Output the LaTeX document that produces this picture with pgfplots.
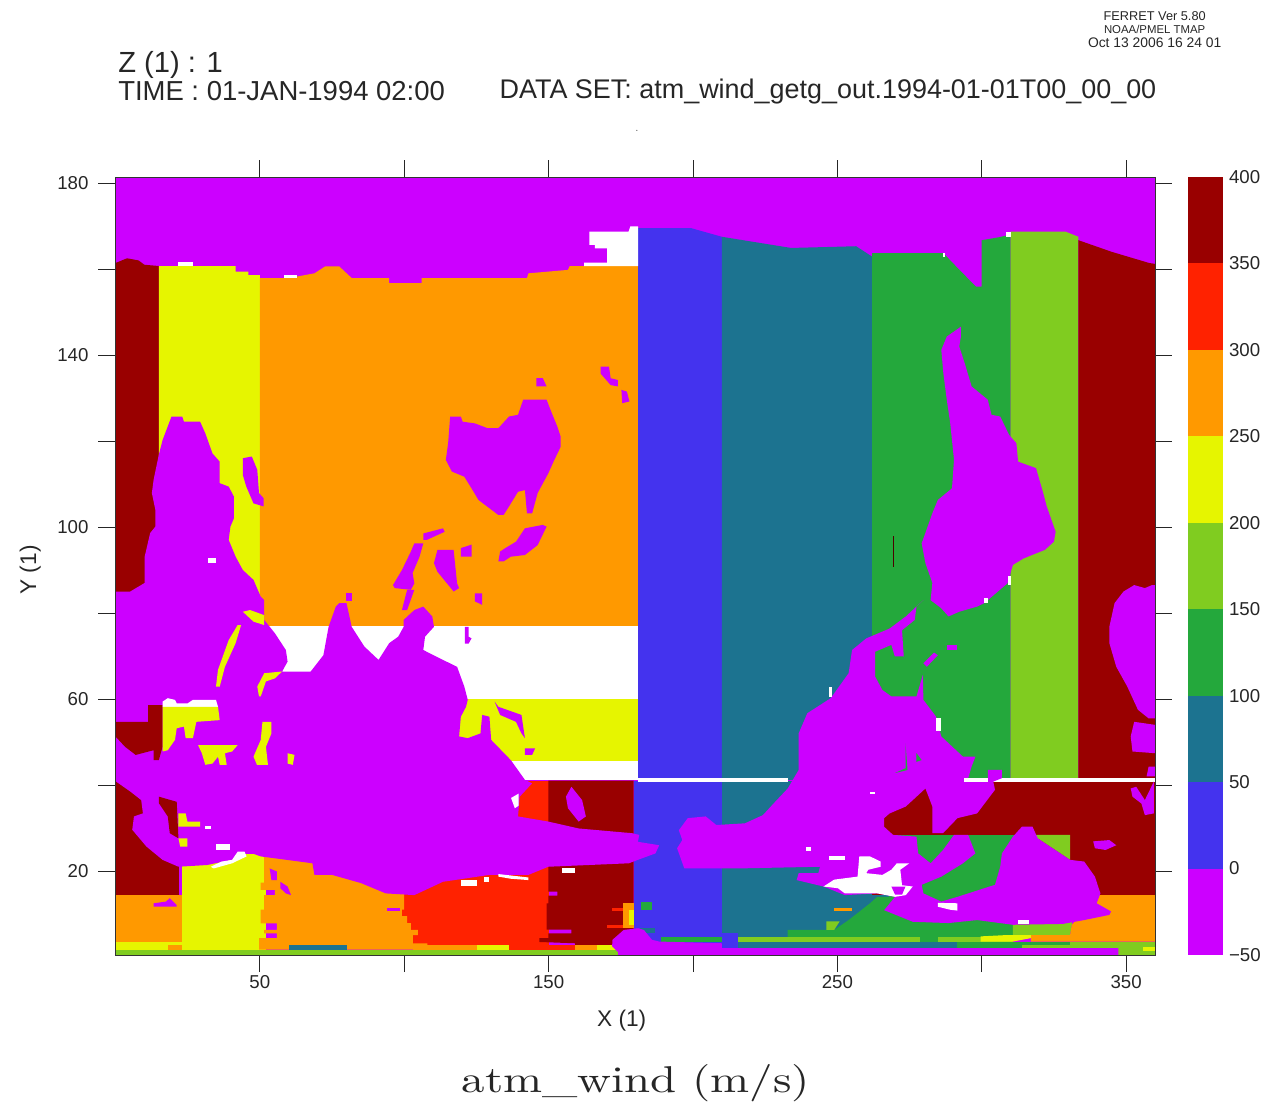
\documentclass[border=0pt]{standalone}
\usepackage{graphicx}
\usepackage{fontspec}
\usepackage{pgfplots}
\pgfplotsset{compat=1.18}
\newfontfamily\hs{Liberation Sans}
\definecolor{cP}{HTML}{CC00FF}
\definecolor{cB}{HTML}{4433EE}
\definecolor{cT}{HTML}{1C7390}
\definecolor{cG}{HTML}{24A83C}
\definecolor{cL}{HTML}{80CC20}
\definecolor{cY}{HTML}{E6F500}
\definecolor{cO}{HTML}{FF9900}
\definecolor{cR}{HTML}{FF2200}
\definecolor{cD}{HTML}{990000}
\newcommand\poly[2]{\addplot[fill=#1,draw=none,forget plot] coordinates {#2};}
\newcommand\rect[5]{\addplot[fill=#1,draw=none,forget plot] coordinates {(#2,#3)(#4,#3)(#4,#5)(#2,#5)};}
\begin{document}
\begin{tikzpicture}
\path (0,0) rectangle (954.75pt,-827.25pt);
\begin{axis}[
  at={(86.625pt,-716.25pt)},anchor=south west,
  scale only axis,width=779.6pt,height=583.5pt,
  xmin=0,xmax=360,ymin=0.47,ymax=181.4,
  axis on top=true,
  axis line style={line width=0.7pt,color=black!80},
  tick style={line width=0.7pt,color=black!85},
  major tick length=12.75pt,
  tick align=outside,
  xtick pos=both,ytick pos=both,
  xticklabel pos=lower,yticklabel pos=left,
  xtick={50,100,150,200,250,300,350},
  xticklabels={50,,150,,250,,350},
  ytick={20,40,60,80,100,120,140,160,180},
  yticklabels={20,,60,,100,,140,,180},
  tick label style={font=\hs\fontsize{14}{16}\selectfont,color=black!85},
  xticklabel style={yshift=1pt},
  yticklabel style={xshift=-4pt},
  xlabel={X (1)},ylabel={Y (1)},
  xlabel style={at={(axis description cs:0.487,-0.0845)},anchor=center,font=\hs\fontsize{17}{19}\selectfont,color=black!85},
  ylabel style={at={(axis description cs:-0.082,0.495)},anchor=center,font=\hs\fontsize{17}{19}\selectfont,color=black!85},
  title={\resizebox*{261pt}{28pt}{atm\_wind (m/s)}},
  title style={at={(axis description cs:0.5005,-0.1755)},anchor=center,inner sep=0pt,color=black!85},
]
% base
\rect{cP}{0}{0.47}{360}{181.4}
% upper columns
\poly{cD}{(0,41.2)(0,161.4)(4,162.5)(8,162)(10,161)(15,160.7)(15,41.2)}
\poly{cY}{(15,41.2)(15,160.7)(41.6,160.7)(41.6,159.4)(46,159.4)(46,158.6)(50,158.6)(50,157.9)(50,41.2)}
\poly{cO}{(50,77)(50,157.9)(60,157.9)(68.9,159)(72.6,160.6)(77.5,160.6)(81.8,157.9)(94.8,157.9)(94.8,156.7)(106,156.7)(106,157.9)(142.5,157.9)(143,159)(156.7,159.8)(157.3,160.7)(181,160.7)(181,77)}
\rect{white}{50}{60}{181}{77}
\rect{cY}{50}{45.6}{181}{60}
\rect{white}{50}{41.2}{181}{45.6}
\poly{cB}{(181,41.2)(181,169.5)(199.4,169.5)(210,167.5)(210,41.2)}
\poly{cT}{(210,41.2)(210,167.5)(234,164.9)(256.5,165.3)(262,162.9)(262,41.2)}
\poly{cG}{(262,41.2)(262,163.7)(286.7,163.7)(291,160.7)(298,155.9)(300,155.9)(300,166.7)(306,167.4)(310,168)(310,41.2)}
\poly{cL}{(310,41.2)(310,168.7)(329,168.7)(333.5,167.5)(333.5,41.2)}
\poly{cD}{(333.5,41.2)(333.5,166.7)(345,164)(358,161.4)(360,161.2)(360,41.2)}
% white features at the top
\poly{white}{(164.1,168.7)(177.7,168.7)(178.3,169.9)(181,169.9)(181,160.7)(162.3,160.7)(162.3,161.5)(170.3,161.5)(170.3,164.8)(166,164.8)(166,165.6)(164.1,165.6)}
\rect{white}{21.8}{160.7}{27}{161.7}
\rect{white}{58.3}{157.9}{63}{158.6}
\rect{white}{308.3}{167.5}{310}{168.7}
\rect{white}{286.6}{162.7}{287.3}{163.7}
% lower base
\rect{cD}{0}{14.4}{22}{41}
\rect{cO}{0}{3.6}{23}{14.4}
\rect{cY}{0}{1.5}{23}{3.6}
\rect{cO}{18.1}{1.5}{23}{2.8}
\rect{cY}{23}{1.5}{52}{24}
\rect{cR}{95}{2.8}{150}{41}
\poly{cO}{(51.5,40)(51.5,17.3)(50.3,17.3)(50.3,15.6)(55.2,15.6)(55.2,14.4)(51.5,14.4)(51.5,11)(50.3,11)(50.3,7.8)(55.9,7.8)(55.9,6.3)(51.5,6.3)(51.5,5.5)(55.9,5.5)(55.9,4.4)(49.7,4.4)(49.7,1.7)(108,1.7)(108,3.2)(103,3.2)(103,5.1)(104.7,5.1)(104.7,6.3)(102.3,6.3)(102.3,7.9)(101,7.9)(101,9.5)(99.2,9.5)(99.2,11)(100,11)(100,40)}
\poly{cD}{(149.9,41)(149.9,15.2)(153,15.2)(153,14.3)(149.9,14.3)(149.9,12.5)(149.3,12.5)(149.3,6.4)(157.9,6.4)(157.9,5.5)(149.9,5.5)(149.9,4.4)(146.8,4.4)(146.8,3.5)(159.2,3.2)(159.2,2.8)(179.4,2.8)(179.4,41)}
\rect{cO}{103}{1.7}{125.1}{2.8}
\rect{cT}{60.2}{1.7}{80.2}{2.8}
\rect{cY}{125.1}{1.7}{136.3}{2.8}
\rect{cR}{136.3}{1.7}{159.2}{2.8}
\rect{cO}{159.2}{1.7}{166.6}{2.8}
\rect{cY}{166.6}{1.7}{174}{2.8}
\rect{cL}{0}{0.47}{174}{1.7}
\rect{cR}{172.1}{10.6}{175.8}{11.3}
\rect{cR}{170.3}{6.7}{175.8}{7.5}
\rect{cO}{175.8}{6.7}{179.4}{12.5}
\rect{cY}{177.7}{7.5}{179.4}{11}
\rect{cB}{179.4}{3}{210}{41}
\rect{cT}{210}{3}{282}{41}
\rect{cD}{262}{14.4}{360}{41}
\rect{cG}{268}{14}{320}{28.4}
\poly{cL}{(318.4,28.4)(330.6,28.4)(330.6,22.6)(319.4,27.6)}
\poly{cG}{(263.8,14)(270,14)(280,14)(310.8,14)(310.8,4.7)(232.8,4.7)(232.8,6.3)(248.9,6.3)(253.9,8.6)(261.3,12.5)}
\rect{cO}{249}{10.6}{255}{11.5}
\poly{cL}{(246.2,8.3)(250.8,8.3)(248.9,6.3)(246.2,6.3)}
% bottom stripes right
\rect{cL}{215.5}{3.4}{310.8}{4.7}
\rect{cG}{278.6}{3.6}{284.8}{4.7}
\rect{cT}{215.5}{2.05}{291.6}{3.4}
\rect{cG}{291.6}{2.05}{314}{3.4}
\rect{cB}{209}{2}{215.5}{5.5}
\poly{cG}{(188.9,4.6)(210,4.6)(210,3.6)(188.9,3.6)}
\poly{cL}{(310.8,14)(331.2,14)(331.2,7.5)(330.6,5.1)(310.8,5.1)}
\poly{cO}{(340.5,14.4)(360,14.4)(360,3.6)(317,3.6)(317,5.1)(330.6,5.1)(331.2,7.5)(340,14)}
\poly{cY}{(308.3,5.1)(317,5.1)(317,4.4)(310.8,3.6)(299.6,3.6)(299.6,4.8)}
\rect{cL}{313.9}{0.47}{360}{3.6}
\rect{cG}{313.9}{2.8}{330.6}{3.4}
\rect{cY}{355.9}{1.5}{360}{2.4}
\rect{cG}{182}{11}{185.8}{12.8}
\rect{cT}{181.5}{5.5}{187}{6.8}
% land A
\poly{cP}{(0,85)(5.1,85)(10.1,87)(10.1,93.1)(12,98.6)(13.8,100.1)(13.8,104)(12.6,107.9)(13.2,111)(15,116.8)(16.3,120.2)(18.1,123.4)(19.4,125.7)(23.1,125.7)(23.7,124.5)(29.3,124.5)(31.1,121.8)(33.6,117.1)(36.1,115.2)(36.1,110.2)(39.2,109.4)(41,107.1)(41,102)(39.8,100.1)(39.2,97)(41.6,93.1)(44.1,90)(47.8,87.7)(50.3,83.8)(51.5,83)(51.5,78.4)(55.2,75.3)(59,71.4)(59.6,68.7)(57.7,66.4)(67.6,66.4)(72,70.2)(73.8,76.8)(76.3,81.5)(77.5,82.3)(80,82.3)(81.8,76.8)(86.2,72.2)(91.1,69.1)(94.8,73)(97.9,74.5)(99.8,76.8)(99.8,78.4)(103.5,80.7)(106.6,81.5)(109.7,79.2)(110.3,76.8)(107.2,74.5)(106.6,71.4)(113.4,69.1)(118.3,67.5)(120.8,62.9)(122,59.8)(121.4,58.2)(119.6,55.9)(119,51.3)(122,50.9)(126.4,52)(127,56.3)(129.5,55.9)(130.1,50.5)(136.9,45.8)(141.8,41.2)(144.3,40.4)(140,37.3)(139.4,32.7)(149.9,31.5)(160.4,29.9)(178.9,28.8)(181.4,28.4)(180.9,26.8)(188.3,26)(187,24.1)(180.9,22.6)(177.8,21.8)(149.9,21)(143,19.1)(129.5,19.1)(113.4,17.5)(103.5,14.4)(93.6,14.8)(85,17.2)(75,19.1)(68.9,19.1)(68.2,21.8)(50.3,23.4)(44.1,24.9)(40.4,22.6)(31.7,21.4)(21.8,21)(16.3,22.6)(10.7,25.7)(5.8,29.6)(6.4,32.7)(9.5,33.4)(8.9,36.5)(5.1,38.5)(0.2,40.8)(0,41)}
% features in land A
\poly{cD}{(0,54.7)(11.3,54.7)(11.3,58.6)(16.3,58.6)(16.3,48.9)(15,45.8)(13.2,45.8)(13.2,48.1)(7,47)(3.3,48.9)(0,51.3)}
\poly{white}{(16.3,58.2)(16.3,59.4)(18.1,60.2)(20.6,59.8)(21.2,59)(25,59)(26.8,59.8)(34.8,59.8)(35.5,58.2)}
\poly{cY}{(16.3,58.2)(35.5,58.2)(36.1,55.1)(28,54.7)(26.8,50.9)(24.3,50.9)(23.7,53.6)(21.2,53.2)(20.6,50.5)(18.1,48.1)(16.3,47.8)}
\poly{cY}{(44.1,80.3)(46.6,80.7)(51.5,79.5)(51.5,77.2)(47.8,78)}
\poly{cY}{(42.3,77.2)(43.5,77.2)(41.6,73)(37.9,67.5)(36.1,62.9)(34.8,62.9)(35.5,66.8)(39.2,73.7)}
\poly{cY}{(49.7,60.6)(49.1,62.9)(51.5,66)(57.7,66.4)(55.2,64.8)(52.1,64.1)(50.3,60.6)}
\poly{cY}{(28.6,49.3)(42.3,49.3)(40.4,47.8)(37.9,47.4)(38.5,44.7)(36.1,44.7)(35.5,46.6)(33.6,45)(31.1,44.7)(29.9,47.4)}
\poly{cY}{(50.9,54.7)(54,54.7)(54,52)(52.1,48.9)(52.8,44.7)(49,44.7)(47.8,46.6)(50.3,50.5)}
\poly{cY}{(59.6,47.4)(62,47)(61.4,44.7)(59.6,45)}
\poly{cD}{(15,37.3)(21.2,36.1)(21.8,27.6)(18.8,28.8)(18.1,32.7)(15,35.8)}
\poly{cY}{(21.8,33.4)(24.3,33.4)(24.9,31.5)(29.3,31.5)(29.3,30.3)(21.8,30.3)}
\poly{cY}{(21.8,27.6)(24.9,27.6)(24.9,25.7)(22.4,25.7)}
\rect{white}{34.8}{24.9}{39.8}{26.4}
\rect{white}{31.1}{29.7}{33.2}{30.5}
\poly{white}{(33,21)(36.7,22.2)(40.4,22.6)(42.3,24.5)(44.7,24.5)(45.4,23.4)(40.4,21.8)(34,20.6)}
\rect{white}{119.6}{16.5}{125.1}{17.9}
\poly{white}{(132.6,19.3)(143,18.5)(143,17.9)(137,18.2)(132.6,18.7)}
\rect{white}{127.6}{17.5}{129.5}{18.7}
\rect{white}{154.8}{19.5}{159.2}{20.6}
\poly{white}{(137,37)(139.6,38)(139.6,35.2)(138.3,34.6)}
\rect{white}{32.1}{91.6}{34.8}{92.7}
% islands over orange and yellow
\poly{cP}{(115.9,125.7)(119.6,125.7)(120.2,124.5)(124.5,124.1)(128.8,123)(132.6,123)(136.3,125.7)(139.4,126.1)(141.2,129.6)(149.3,129.6)(151.1,126.5)(153,123.4)(154.2,121)(154.2,118.7)(151.7,115.2)(149.9,112.5)(147.4,109.4)(146.2,107.9)(144.3,103.2)(142.5,103.2)(141.8,108.6)(139.4,108.2)(136.3,104.8)(134.4,102.8)(132.6,102.8)(125.7,106.3)(123.3,109)(120.8,111.7)(116.5,112.9)(114.4,115.6)(115.2,119.5)}
\poly{cP}{(44.1,116)(47.2,116.4)(49.1,113.3)(49.7,107.9)(51.3,106.7)(51.3,104.8)(47.8,105.5)(45.3,109.4)(44.1,112.1)}
\poly{cP}{(168,137.3)(170.9,137.3)(171.5,134.6)(174,134.2)(174,132.7)(171.5,133)(168,135.7)}
\poly{cP}{(175.2,131.9)(177.1,131.5)(178,129.2)(175.5,128.8)}
\poly{cP}{(145.8,134.6)(148,134.6)(149.3,132.7)(145.8,132.7)}
\poly{cP}{(106.6,98.5)(113.4,99.7)(114,98.9)(107.8,97)(106.6,97)}
\poly{cP}{(103.5,96.2)(106.6,96.2)(105.3,93.1)(102.9,89.3)(103.5,86.9)(102.3,85.4)(96.7,85.8)(96.1,86.5)(99.2,90)(102.3,94.3)}
\poly{cP}{(101,85.4)(103.5,85.4)(101,80.7)(99.2,80.7)}
\poly{cP}{(111.5,94.7)(117.1,94.7)(118.3,86.9)(119,85.8)(117.1,85)(111.5,89.6)(110.3,91.6)}
\poly{cP}{(119.6,95.1)(123.3,95.9)(123.3,93.1)(119.6,93.1)}
\poly{cP}{(135,95.1)(138.7,96.6)(141.8,99.7)(148,100.5)(149.3,100.1)(146.2,95.8)(141.8,93.5)(136.9,93.1)(134.4,92)(132.6,92)(133.2,94.3)}
\poly{cP}{(124.5,84.6)(127,84.6)(127,81.9)(124.5,82.7)}
\poly{cP}{(80,84.6)(81.8,84.6)(81.8,82.7)(80,82.7)}
\poly{cP}{(121,76.8)(122.3,76.8)(122.3,74.5)(123.3,74.1)(122.3,72.9)(121,72.9)}
\poly{cP}{(131.3,59.4)(132.6,58.2)(140.6,56.3)(141.8,50.9)(140.6,52)(138.7,54.7)(133.2,56.3)}
\poly{cP}{(141.8,48.5)(145.3,48.5)(144.3,47)(141.8,47)}
\poly{cP}{(157.9,39.6)(161.6,36.5)(162.9,32.7)(160.4,31.5)(156.7,34.6)(156,37.3)}
\poly{cP}{(13.2,12.5)(17.5,12.9)(18.8,13.7)(21.2,12.1)(21.2,11.7)(13.2,11.7)}
\poly{cP}{(53.4,20.6)(55.9,19.9)(55.9,17.9)(54,17.9)}
\poly{cP}{(57.1,17.5)(59.6,16.4)(60.8,14.4)(59,14.8)(57.1,16)}
\rect{cP}{94}{10.6}{98.5}{11.3}
% white lines
\rect{white}{181}{40.7}{233}{41.7}
\rect{white}{294}{40.7}{360}{41.7}
% land B
\poly{cP}{(292.8,146.6)(292.8,144.3)(292.2,142)(294.1,138.1)(296.5,132.7)(302.1,129.6)(303.4,126.1)(306.4,125.7)(309.5,121.4)(312,119.5)(312.6,115.2)(318.8,113.7)(321.3,107.9)(322.5,104.8)(325.6,98.9)(325,96.6)(321.9,94.7)(314.5,92.7)(310.8,91.2)(308.9,86.9)(300.9,82.3)(298.4,81.5)(292.2,80.3)(288.5,79.2)(286,81.1)(282.3,83)(282.9,87)(280.5,91.6)(279.2,96.2)(282.9,103.2)(284.8,106.3)(289.7,109)(290.4,115.6)(289.1,124.1)(287.9,129.6)(286.7,135.8)(286,141.2)(287.9,144.3)}
% land C
\poly{cP}{(279.8,83)(277.4,81.5)(276.8,78.4)(272.4,76)(273,69.9)(269.9,69.9)(268.7,72.6)(263.1,71)(263.1,65.2)(265.6,62.1)(268.7,60.6)(277.4,60.6)(279.6,65.6)(279.8,59.8)(284.2,55.9)(286,51.3)(293.5,46.6)(297.8,46.6)(296.5,44.3)(295.3,41.6)(302.1,41.6)(302.1,43.5)(307,43.5)(307,41.6)(304,40.8)(304.6,38.9)(298.4,33.4)(291.6,32.3)(286.6,28.8)(282.9,28.8)(282.9,35)(280.5,39.2)(273.7,35)(268.1,33.4)(266.2,32.3)(266.2,30.3)(269.3,28.4)(277.4,28)(278,24.1)(282.3,21.8)(286.6,24.9)(290.4,28.4)(295.3,28.4)(297.8,24.1)(293.5,21.8)(286,18.7)(279.2,16.8)(279.8,14.8)(286,12.9)(291.6,14)(304.6,16.8)(306.4,21)(307,24.1)(310.8,28)(313.9,30.3)(317.6,30.3)(319.4,27.6)(330.6,22.6)(335.5,22.2)(339.2,18.7)(341.1,14.8)(339.8,12.5)(344.8,10.6)(344.2,9.8)(335.5,8.6)(328.1,7.7)(310.8,7.5)(298.4,8.6)(288.5,7.9)(276.1,8.2)(266.2,10.9)(270,14)(263.8,14.8)(252.6,14.4)(245.2,16.4)(235.9,17.9)(236.6,19.5)(243.4,19.5)(244,21)(215.5,20.6)(197,20.6)(194.5,25.3)(196.3,27.2)(195.1,29.5)(198.2,32.3)(204.4,32.7)(208.1,30.7)(218,31.1)(224.2,33)(227.9,35.7)(232.8,39.2)(236.6,43.5)(236.6,52)(239.6,56.7)(247.7,60.2)(253.9,66)(255.1,71.4)(260,74.1)(268.1,76.4)(273.7,79.2)}
\rect{white}{294}{40.7}{302}{41.7}
% land D and bottom strip
\poly{cP}{(172.1,4)(176,6.3)(181,6.7)(183,6.3)(185.8,4)(188.3,3.6)(210,3.2)(210,2.05)(347.3,2.05)(347.3,0.47)(175,0.47)(172,2.5)}
% land E at the right
\poly{cP}{(346,82.3)(349.1,85)(352.8,86.5)(356.5,85.8)(359,86.5)(360,86.5)(360,55.5)(357.8,55.5)(354.1,57.5)(350.4,62.9)(346.6,67.5)(344.2,73)(344.2,76.8)}
\poly{cP}{(352.8,54.7)(360,54)(360,47.4)(352.2,47.8)(351.6,51.3)}
\poly{cP}{(357.8,44.3)(360,44.3)(360,42)(357.1,42)}
\poly{cP}{(351.6,39.2)(353.5,39.6)(356.5,36.5)(359.6,40.8)(359.6,33.4)(356.5,33)(355.3,35.7)(352.2,37.3)}
\poly{cP}{(338.6,26.9)(344.2,27.2)(346.6,26)(342.9,24.9)(339.2,25.3)}
% details on land C
\poly{cG}{(273.6,49.7)(274.3,43.5)(270,42.8)(273.6,43.9)}
\poly{cG}{(277.4,47.4)(279.2,45.8)(277.4,45.4)}
\rect{white}{247}{60.5}{248.3}{62.7}
\rect{white}{284.2}{52.6}{286}{55.5}
\rect{white}{261.3}{37.8}{262.9}{38.4}
\rect{white}{239.3}{24.7}{240.9}{25.5}
\rect{white}{247}{22.6}{252.6}{23.5}
\poly{white}{(245.2,16.4)(248.9,18)(257,18.7)(257.6,23.4)(261.3,23.4)(265,22.2)(265,21)(260.7,20.3)(260,19.5)(265.6,19.1)(268.7,20.3)(270.6,21.8)(274.9,21.8)(271.8,20.3)(272.4,16.7)(276.1,16.4)(273.7,14.4)(270,14)(263.8,14.8)(252.6,14.8)(250.2,16)}
\poly{cP}{(268.7,16.4)(273.6,16.4)(272.4,14.5)(270,14.5)}
\poly{white}{(284.8,12.6)(291.6,12.5)(291.6,10.8)(289.1,11)(284.8,11.7)}
\rect{white}{312.6}{7.7}{316.3}{8.5}
\rect{white}{309}{86.5}{310}{88.5}
\rect{white}{300.9}{82.4}{302.1}{83.6}
\poly{cP}{(287.9,72.6)(291.6,72.6)(291.6,71.4)(287.9,71.4)}
\poly{cP}{(279.8,68.3)(283.5,70.8)(284.8,70.2)(281,67.5)}
\addplot[color=black!70!red,line width=0.7pt,forget plot] coordinates {(269.3,90.8)(269.3,97.8)};
\end{axis}
% colour bar
\begin{axis}[
  at={(891pt,-716.25pt)},anchor=south west,
  scale only axis,width=26.25pt,height=583.5pt,
  xmin=0,xmax=1,ymin=-50,ymax=400,
  axis line style={draw=none},
  xtick=\empty,
  ytick={-50,0,50,100,150,200,250,300,350,400},
  yticklabels={−50,0,50,100,150,200,250,300,350,400},
  ytick pos=right,yticklabel pos=right,major tick length=0pt,
  yticklabel style={font=\hs\fontsize{14}{16}\selectfont,color=black!85,anchor=west,xshift=1pt},
]
\rect{cP}{0}{-50}{1}{0}
\rect{cB}{0}{0}{1}{50}
\rect{cT}{0}{50}{1}{100}
\rect{cG}{0}{100}{1}{150}
\rect{cL}{0}{150}{1}{200}
\rect{cY}{0}{200}{1}{250}
\rect{cO}{0}{250}{1}{300}
\rect{cR}{0}{300}{1}{350}
\rect{cD}{0}{350}{1}{400}
\end{axis}
% header text
\node[anchor=west,inner sep=0,text=black!85] at (88.5pt,-48.5pt) {\resizebox{78.5pt}{!}{\hs Z (1) : 1}};
\node[anchor=west,inner sep=0,text=black!85] at (88.5pt,-68.5pt) {\resizebox{245pt}{!}{\hs TIME : 01-JAN-1994 02:00}};
\node[anchor=west,inner sep=0,text=black!85] at (374.5pt,-68.5pt) {\resizebox{492.5pt}{!}{\hs DATA SET: atm\_wind\_getg\_out.1994-01-01T00\_00\_00}};
\node[anchor=center,inner sep=0,text=black!85] at (866pt,-12pt) {\resizebox{76.5pt}{!}{\hs FERRET Ver 5.80}};
\node[anchor=center,inner sep=0,text=black!85] at (866pt,-22pt) {\resizebox{76pt}{!}{\hs NOAA/PMEL TMAP}};
\node[anchor=center,inner sep=0,text=black!85] at (866pt,-32pt) {\resizebox{100pt}{!}{\hs Oct 13 2006 16 24 01}};
\node[anchor=center,inner sep=0,text=black!70] at (477.75pt,-98pt) {\fontsize{8}{9}\selectfont .};
\end{tikzpicture}
\end{document}
